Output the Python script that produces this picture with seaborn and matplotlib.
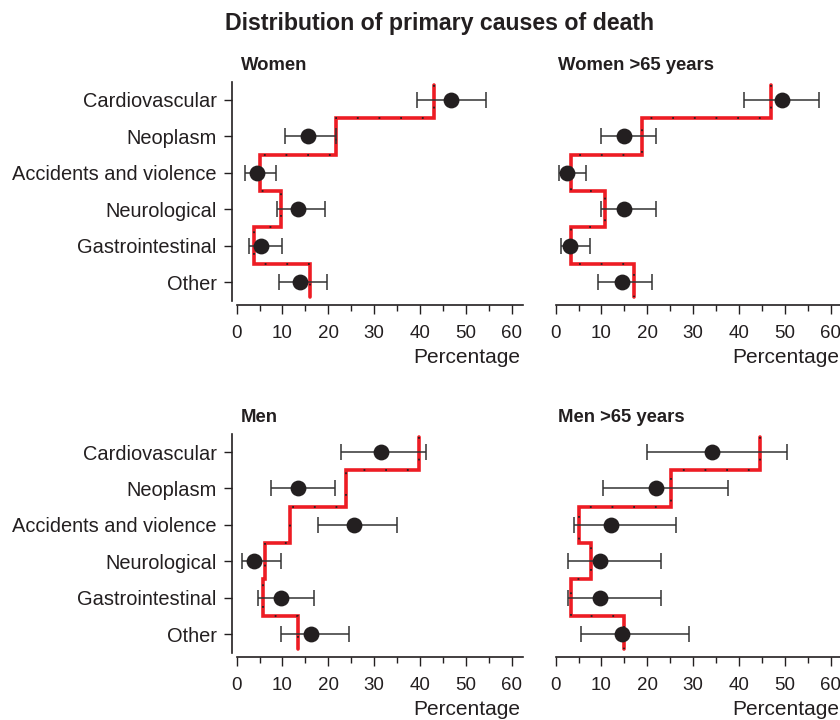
import numpy as np
import matplotlib
matplotlib.use("Agg")
import matplotlib.pyplot as plt
from matplotlib.ticker import MultipleLocator
import seaborn as sns

categories = ["Cardiovascular", "Neoplasm", "Accidents and violence",
              "Neurological", "Gastrointestinal", "Other"]

panel_titles = ["Women", "Women >65 years", "Men", "Men >65 years"]

women_pt = [46.8, 15.5, 4.4, 13.3, 5.4, 13.8]
women_lo = [39.3, 10.6, 1.9, 8.9, 2.7, 9.2]
women_hi = [54.5, 21.7, 8.5, 19.3, 10.0, 19.8]
women_step = [43.0, 21.8, 5.0, 9.8, 3.8, 16.0]

women65_pt = [49.3, 15.0, 2.5, 15.0, 3.1, 14.4]
women65_lo = [41.1, 9.8, 0.7, 9.9, 1.1, 9.3]
women65_hi = [57.5, 21.8, 6.6, 21.8, 7.5, 21.1]
women65_step = [47.0, 18.8, 3.4, 10.8, 3.3, 17.0]

men_pt = [31.5, 13.3, 25.7, 3.9, 9.6, 16.3]
men_lo = [22.7, 7.6, 17.8, 1.2, 4.7, 9.8]
men_hi = [41.3, 21.4, 35.1, 9.6, 17.0, 24.6]
men_step = [39.7, 23.8, 11.7, 6.1, 5.7, 13.3]

men65_pt = [34.1, 21.8, 12.1, 9.6, 9.6, 14.5]
men65_lo = [20.0, 10.4, 4.0, 2.6, 2.6, 5.5]
men65_hi = [50.5, 37.6, 26.2, 23.0, 23.0, 29.2]
men65_step = [44.5, 25.1, 5.1, 7.7, 3.3, 15.0]

x_ticks = [0, 10, 20, 30, 40, 50, 60]
x_label = "Percentage"
main_title = "Distribution of primary causes of death"

sns.set_style("ticks")
plt.rcParams['font.family'] = ['Liberation Sans', 'DejaVu Sans']

INK = "#231f20"
RED = "#ed1c24"

fig = plt.figure(figsize=(8.4, 7.2), dpi=100)

W = 0.3464
H = 0.3100
positions = [
    [0.2762, 0.5764, W, H],
    [0.6560, 0.5764, W, H],
    [0.2762, 0.0875, W, H],
    [0.6560, 0.0875, W, H],
]

panels = [
    (women_pt, women_lo, women_hi, women_step),
    (women65_pt, women65_lo, women65_hi, women65_step),
    (men_pt, men_lo, men_hi, men_step),
    (men65_pt, men65_lo, men65_hi, men65_step),
]

n = len(categories)
pos = np.arange(n)

for k, (rect, (pt, lo, hi, step), title) in enumerate(zip(positions, panels, panel_titles)):
    ax = fig.add_axes(rect)
    pt = np.asarray(pt); lo = np.asarray(lo); hi = np.asarray(hi); step = np.asarray(step)

    # step line
    sy = np.column_stack([pos - 0.5, pos + 0.5]).ravel()
    sy[0] = -0.4
    sy[-1] = n - 1 + 0.4
    sx = np.repeat(step, 2)
    ax.plot(sx, sy, color=RED, lw=2.6, solid_joinstyle='miter', zorder=2)
    ax.plot(sx, sy, color=INK, lw=1.3, linestyle=(0, (1, 11)), zorder=2.5)

    # error bars
    ax.errorbar(pt, pos, xerr=[pt - lo, hi - pt], fmt='none', ecolor="#333333",
                elinewidth=1.1, capsize=6, capthick=1.1, zorder=3)
    sns.scatterplot(x=pt, y=pos, ax=ax, s=130, color=INK, edgecolor=INK,
                    linewidth=0, zorder=4, legend=False)

    ax.set_xlim(-1, 62.5)
    ax.set_ylim(5.63, -0.5)
    ax.set_xticks(x_ticks)
    ax.xaxis.set_minor_locator(MultipleLocator(5))
    ax.tick_params(axis='x', which='major', length=6.5, width=1.0, color=INK,
                   labelsize=13.5, labelcolor=INK, pad=8)
    ax.tick_params(axis='x', which='minor', length=4.3, width=1.0, color=INK)
    ax.set_xlabel(x_label, fontsize=15, color=INK, labelpad=4,
                  x=0.99, horizontalalignment='right')

    for side in ['top', 'right']:
        ax.spines[side].set_visible(False)
    ax.spines['bottom'].set_bounds(0, 62.5)
    ax.spines['bottom'].set_linewidth(1.2)
    ax.spines['bottom'].set_color(INK)

    if k % 2 == 0:
        ax.set_yticks(pos)
        ax.set_yticklabels(categories)
        ax.tick_params(axis='y', length=6, width=1.0, color=INK, labelsize=14.4,
                       labelcolor=INK, pad=5)
        ax.spines['left'].set_bounds(-0.5, 5.52)
        ax.spines['left'].set_linewidth(1.2)
        ax.spines['left'].set_color(INK)
    else:
        ax.set_yticks([])
        ax.spines['left'].set_visible(False)

    ax.set_ylabel("")
    ax.text(0.03 if k % 2 == 0 else 0.024, 1.072, title, transform=ax.transAxes,
            ha='left', va='center', fontsize=13.3, fontweight='bold', color=INK)

fig.text(0.523, 0.968, main_title, ha='center', va='center',
         fontsize=16.7, fontweight='bold', color=INK)

fig.savefig("out.png", dpi=100, facecolor='white')
